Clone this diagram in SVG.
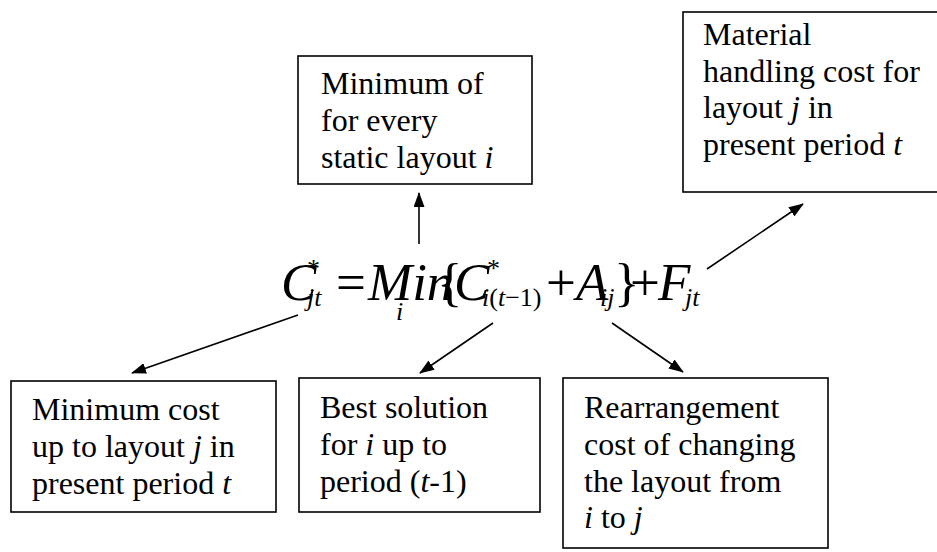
<svg xmlns="http://www.w3.org/2000/svg" width="937" height="552" viewBox="0 0 937 552">
<defs>
<style>
.box{fill:#fff;stroke:#000;stroke-width:1.6}
.t{font-family:"Liberation Serif","Times New Roman",serif;font-size:32px;fill:#000}
.i{font-style:italic}
.eq{font-family:"Liberation Serif","Times New Roman",serif;fill:#000}
.big{font-size:53px}
.sub{font-size:26px}
.star{font-size:26px}
.con{stroke:#000;stroke-width:1.6;fill:none;marker-end:url(#ah)}
</style>
<marker id="ah" viewBox="0 0 15 11" refX="14" refY="5.5" markerWidth="15" markerHeight="11" markerUnits="userSpaceOnUse" orient="auto">
<path d="M0,0 L15,5.5 L0,11 Z" fill="#000"/>
</marker>
</defs>
<rect width="937" height="552" fill="#fff"/>

<g id="connectors">
<line class="con" x1="419" y1="244" x2="419" y2="193"/>
<line class="con" x1="707" y1="269" x2="803" y2="204"/>
<line class="con" x1="298" y1="315" x2="132" y2="373"/>
<line class="con" x1="493" y1="323" x2="420" y2="373"/>
<line class="con" x1="612" y1="323" x2="683" y2="372"/>
</g>

<g id="node-formula">
<text class="eq big i" x="281" y="300">C</text>
<text class="eq star" x="307" y="277">*</text>
<text class="eq sub i" x="307" y="306">jt</text>
<text class="eq big" x="336" y="300">=</text>
<text class="eq big i" x="368" y="300">Min</text>
<text class="eq sub i" x="396" y="320">i</text>
<text class="eq big" x="437" y="300">{</text>
<text class="eq big i" x="454" y="300">C</text>
<text class="eq star" x="487" y="277">*</text>
<text class="eq sub" x="482" y="306"><tspan class="i">i</tspan>(<tspan class="i">t</tspan>−1)</text>
<text class="eq big" x="546" y="300">+</text>
<text class="eq big i" x="576" y="300">A</text>
<text class="eq sub i" x="600" y="306">ij</text>
<text class="eq big" x="614" y="300">}</text>
<text class="eq big" x="630" y="300">+</text>
<text class="eq big i" x="658" y="300">F</text>
<text class="eq sub i" x="685" y="306">jt</text>
</g>

<g id="node-min-static">
<rect class="box" x="298" y="56" width="234" height="128"/>
<text class="t" x="321" y="94">Minimum of</text>
<text class="t" x="321" y="131">for every</text>
<text class="t" x="321" y="168">static layout <tspan class="i">i</tspan></text>
</g>

<g id="node-material">
<rect class="box" x="683" y="12" width="260" height="180"/>
<text class="t" x="703" y="45">Material</text>
<text class="t" x="703" y="82">handling cost for</text>
<text class="t" x="703" y="118">layout <tspan class="i">j</tspan> in</text>
<text class="t" x="703" y="155">present period <tspan class="i">t</tspan></text>
</g>

<g id="node-min-cost">
<rect class="box" x="11" y="381" width="265" height="131"/>
<text class="t" x="32" y="420">Minimum cost</text>
<text class="t" x="32" y="457">up to layout <tspan class="i">j</tspan> in</text>
<text class="t" x="32" y="494">present period <tspan class="i">t</tspan></text>
</g>

<g id="node-best">
<rect class="box" x="299" y="378" width="241" height="134"/>
<text class="t" x="320" y="418">Best solution</text>
<text class="t" x="320" y="455">for <tspan class="i">i</tspan> up to</text>
<text class="t" x="320" y="492">period (<tspan class="i">t</tspan>-1)</text>
</g>

<g id="node-rearrange">
<rect class="box" x="563" y="378" width="265" height="170"/>
<text class="t" x="584" y="418">Rearrangement</text>
<text class="t" x="584" y="455">cost of changing</text>
<text class="t" x="584" y="492">the layout from</text>
<text class="t" x="584" y="528"><tspan class="i">i</tspan> to <tspan class="i">j</tspan></text>
</g>
</svg>
